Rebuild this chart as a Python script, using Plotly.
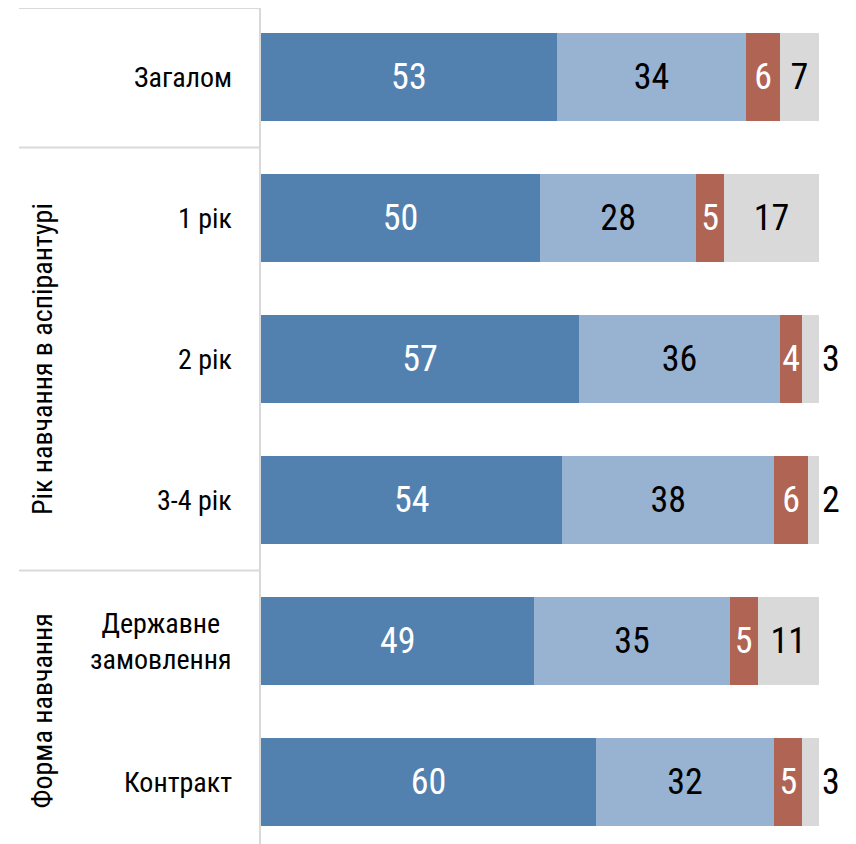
import plotly.graph_objects as go

categories = ["Загалом", "1 рік", "2 рік", "3-4 рік", "Державне замовлення", "Контракт"]
tick_labels = ["Загалом", "1 рік", "2 рік", "3-4 рік", "Державне<br>замовлення", "Контракт"]
group_labels = ["Рік навчання в аспірантурі", "Форма навчання"]
group_rows = [[1, 2, 3], [4, 5]]
separators_after = [0, 3]

s1 = [53, 50, 57, 54, 49, 60]
s2 = [34, 28, 36, 38, 35, 32]
s3 = [6, 5, 4, 6, 5, 5]
s4 = [7, 17, 3, 2, 11, 3]

colors = ["#5281b0", "#97b3d1", "#b06453", "#d9d9d9"]
text_colors = ["white", "black", "white", "black"]

FONT = "Roboto Condensed, Liberation Sans Narrow, Roboto, sans-serif"
NUM_SIZE = 36
LBL_SIZE = 28
WEIGHT = 400

# page is drawn with an 8px body offset
OFF = 8
W, H = 856, 844
PLOT_L, PLOT_R = 261, 819          # page px
ML = PLOT_L - OFF
MR = W - (PLOT_R - OFF)
MT, MB = 0, 0
row_px = 141
plot_h = H - MT - MB
span = plot_h / row_px
first_center_page = 77
y_top = -(first_center_page - OFF - MT) / row_px
y_bot = y_top + span
yidx = list(range(len(categories)))


def ypaper(v):
    return min(1.0, (y_bot - v) / span)


def xpaper_px(px):
    return (px - PLOT_L) / (PLOT_R - PLOT_L)


fig = go.Figure()
series = [s1, s2, s3, s4]
for i, s in enumerate(series):
    if i == 3:
        pos = ["inside" if v >= 5 else "outside" for v in s]
    else:
        pos = "inside"
    fig.add_trace(go.Bar(
        y=yidx, x=s, orientation="h",
        marker=dict(color=colors[i], line=dict(width=0)),
        text=[str(v) for v in s],
        textposition=pos,
        insidetextanchor="middle",
        insidetextfont=dict(family=FONT, size=NUM_SIZE, color=text_colors[i], weight=WEIGHT),
        outsidetextfont=dict(family=FONT, size=NUM_SIZE, color="black", weight=WEIGHT),
        cliponaxis=False,
        hoverinfo="skip",
        showlegend=False,
    ))

annotations = []
for i, lbl in enumerate(tick_labels):
    annotations.append(dict(
        x=xpaper_px(234), xref="paper", y=i, yref="y",
        text=lbl, showarrow=False, xanchor="right", yanchor="middle",
        align="center", font=dict(family=FONT, size=LBL_SIZE, color="black", weight=WEIGHT),
    ))
for g, rows in zip(group_labels, group_rows):
    ymid = (min(rows) - 0.5 + max(rows) + 0.5) / 2
    annotations.append(dict(
        x=xpaper_px(42), xref="paper", y=(y_bot - ymid) / span, yref="paper",
        text=g, showarrow=False, textangle=-90, xanchor="center", yanchor="middle",
        font=dict(family=FONT, size=LBL_SIZE, color="black", weight=WEIGHT),
    ))

line_col = "#d9d9d9"
shapes = []
shapes.append(dict(type="line", xref="paper", yref="paper",
                   x0=xpaper_px(19), x1=xpaper_px(261), y0=ypaper(-0.5), y1=ypaper(-0.5),
                   line=dict(color=line_col, width=2)))
for r in separators_after:
    shapes.append(dict(type="line", xref="paper", yref="paper",
                       x0=xpaper_px(19), x1=xpaper_px(261), y0=ypaper(r + 0.5), y1=ypaper(r + 0.5),
                       line=dict(color=line_col, width=2)))
shapes.append(dict(type="line", xref="paper", yref="paper",
                   x0=xpaper_px(260), x1=xpaper_px(260), y0=-0.05, y1=ypaper(-0.5),
                   line=dict(color=line_col, width=2)))

fig.update_layout(
    width=W, height=H,
    margin=dict(l=ML, r=MR, t=MT, b=MB),
    barmode="stack", bargap=0.376,
    plot_bgcolor="white", paper_bgcolor="white",
    xaxis=dict(range=[0, 100], visible=False, fixedrange=True),
    yaxis=dict(range=[y_bot, y_top], visible=False, fixedrange=True),
    uniformtext=dict(minsize=NUM_SIZE, mode="show"),
    annotations=annotations, shapes=shapes,
    font=dict(family=FONT),
)

fig.write_html("out.html")
